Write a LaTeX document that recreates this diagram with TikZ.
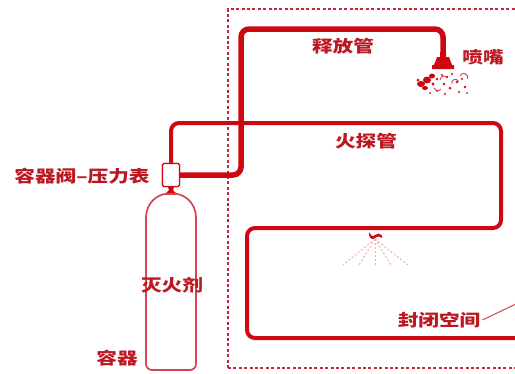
\documentclass[tikz,border=0pt]{standalone}
\usepackage{fontspec}
\newfontfamily\cjk[FakeStretch=1.25]{Noto Sans CJK SC}
\begin{document}
\definecolor{pipered}{RGB}{206,8,16}
\definecolor{txtred}{RGB}{188,24,34}
\definecolor{boxred}{RGB}{200,40,60}
\definecolor{cylred}{RGB}{214,70,82}
\definecolor{spraypink}{RGB}{238,170,172}
\tikzset{
  lbl/.style={font=\cjk\bfseries\fontsize{16.5}{17}\selectfont, text=txtred, inner sep=0pt},
  pipe/.style={draw=pipered, line width=5.5pt, rounded corners=8pt},
  tube/.style={draw=pipered, line width=4pt, rounded corners=8pt},
  zone/.style={draw=boxred, line width=1.6pt, dash pattern=on 3pt off 2.4pt},
  cyl/.style={draw=cylred, line width=1.7pt},
  valvebox/.style={draw=pipered, line width=1.4pt, fill=white, rounded corners=1.5pt,
    minimum width=17pt, minimum height=23pt, inner sep=0pt},
  spray/.style={draw=spraypink, line width=0.9pt, dash pattern=on 2pt off 2pt},
  leader/.style={draw=cylred, line width=1pt}
}
\begin{tikzpicture}[x=1pt,y=-1pt]
\useasboundingbox (0,0) rectangle (515,373);
\clip (0,0) rectangle (515,373);

% protected (closed) zone
\draw[zone] (228,368) -- (228,9) -- (530,9);
\draw[zone] (228,368) -- (530,368);

% cylinder with valve and pressure gauge
\node[valvebox] (valve) at (171,175) {};
\coordinate (neckTop) at (171,187);
\fill[pipered] (168,187) -- (174,187) -- (173,190) -- (177,194) -- (165,194) -- (169,190) -- cycle;
\draw[cyl, rounded corners=6pt] (146,218) -- (146,370) -- (196,370) -- (196,218);
\draw[cyl] (146,218) .. controls (146,202) and (158,195) .. (165,194) -- (177,194)
  .. controls (184,195) and (196,202) .. (196,218);

% release pipe to the nozzle
\coordinate (nozTop) at (443,54);
\draw[pipe] (valve.east) -- (241,175) -- (241,29) -- (443,29) -- (nozTop);

% fire detection tube
\coordinate (tubeEnd) at (530,338);
\draw[tube] (valve.north) -- (171,123) -- (501,123) -- (501,228) -- (247,228) -- (247,338) -- (tubeEnd);
\node[valvebox] at (valve) {};

% nozzle head
\fill[pipered] (440,52) -- (446,52) -- (446,57) -- (449,57) -- (452,65) -- (454,65) -- (454,69)
  -- (432,69) -- (432,65) -- (434,65) -- (437,57) -- (440,57) -- cycle;
% discharged agent
\begin{scope}[pipered]
\fill (421,84) ellipse (4pt and 3pt);
\fill (427,80) ellipse (4pt and 3.5pt);
\fill (432,76) ellipse (3pt and 2.5pt);
\fill (425,88) ellipse (3pt and 2pt);
\fill (418,80) circle (1.5pt);
\fill (433,84) circle (1.6pt);
\fill (437,79) circle (1.3pt);
\fill (442,75) circle (1.2pt);
\fill (447,77) circle (1.4pt);
\fill (452,74) circle (1.2pt);
\fill (444,84) circle (1.3pt);
\fill (450,88) circle (1.5pt);
\fill (457,82) circle (1.3pt);
\fill (462,79) circle (1.1pt);
\fill (465,87) circle (1.4pt);
\fill (459,92) circle (1.2pt);
\fill (437,91) circle (1.2pt);
\fill (445,94) circle (1.1pt);
\fill (430,93) circle (1pt);
\fill (467,93) circle (1pt);
\end{scope}
\draw[cylred, line width=0.9pt] (440,80) arc (180:40:4pt);
\draw[cylred, line width=0.9pt] (452,84) arc (200:20:3.5pt);
\draw[cylred, line width=0.9pt] (460,76) arc (160:-20:4pt);
\draw[cylred, line width=0.9pt] (434,88) arc (200:320:4pt);

% sprinkler head on the detection tube with its spray
\coordinate (spr) at (375,239);
\fill[pipered] (369,232) .. controls (371,236) and (373,237) .. (375,235)
  .. controls (377,233) and (380,233) .. (382,236) -- (382,238)
  .. controls (379,236) and (377,236) .. (375,238) .. controls (373,240) and (370,239) .. (369,235) -- cycle;
\foreach \ex in {343,359,375,391,408}
  \draw[spray] (spr) -- (\ex,265);

% labels
\node[lbl] (lValve) at (82,176) {容器阀–压力表};
\node[lbl] (lRelease) at (343,46) {释放管};
\node[lbl] (lNozzle) at (483,57) {喷嘴};
\node[lbl] (lTube) at (366,141) {火探管};
\node[lbl] (lAgent) at (172,285) {灭火剂};
\node[lbl] (lCyl) at (117,358) {容器};
\node[lbl] (lZone) at (439,320) {封闭空间};
\coordinate (zoneTip) at (520,302);
\draw[leader] (lZone.east) ++(2pt,0) -- (zoneTip);
\end{tikzpicture}
\end{document}
